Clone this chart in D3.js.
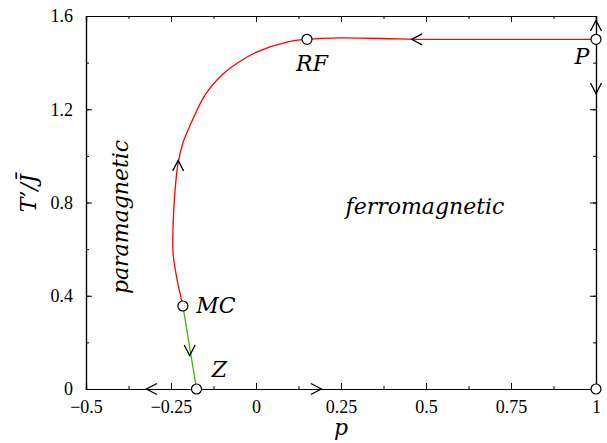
<!DOCTYPE html>
<html>
<head>
<meta charset="utf-8">
<script src="https://cdnjs.cloudflare.com/ajax/libs/d3/7.8.5/d3.min.js"></script>
<style>
  body { margin: 0; background: #fff; }
</style>
</head>
<body>
<script>
// data
var redP = [1.0, 0.75, 0.5, 0.42, 0.25, 0.15, 0.094, 0.003, -0.05, -0.097, -0.15, -0.197, -0.215, -0.229, -0.238, -0.244, -0.244, -0.232, -0.221, -0.215];
var redT = [1.5, 1.5, 1.5, 1.502, 1.506, 1.5, 1.489, 1.446, 1.403, 1.351, 1.261, 1.12, 1.055, 0.97, 0.854, 0.695, 0.583, 0.468, 0.395, 0.356];
var greenP = [-0.215, -0.175];
var greenT = [0.356, 0.0];
var fixedNames = ["P", "RF", "MC", "Z", ""];
var fixedP = [1.0, 0.15, -0.215, -0.175, 1.0];
var fixedT = [1.5, 1.5, 0.356, 0.0, 0.0];
// arrow heads: position and direction
var arrowP = [0.474, -0.229, -0.195, -0.306, 0.176, 1.0, 1.0];
var arrowT = [1.5, 0.957, 0.167, 0.0, 0.0, 1.557, 1.291];
var arrowDir = ["left", "up", "down", "left", "right", "up", "down"];
var xTicks = [-0.5, -0.25, 0, 0.25, 0.5, 0.75, 1];
var xTickLabels = ["\u22120.5", "\u22120.25", "0", "0.25", "0.5", "0.75", "1"];
var yTicks = [0, 0.4, 0.8, 1.2, 1.6];
var yTickLabels = ["0", "0.4", "0.8", "1.2", "1.6"];

var FONT = "Liberation Serif";
var IFONT = "DejaVu Serif";
var W = 607, H = 443;
var margin = {top: 16, right: 11, bottom: 54, left: 86},
    width = W - margin.left - margin.right,
    height = H - margin.top - margin.bottom;

var x = d3.scaleLinear().domain([-0.5, 1]).range([0, width]);
var y = d3.scaleLinear().domain([0, 1.6]).range([height, 0]);

var svg = d3.select("body").append("svg")
    .attr("width", W)
    .attr("height", H)
  .append("g")
    .attr("transform", "translate(" + margin.left + "," + margin.top + ")");

var xMinor = d3.range(-0.5, 1.0001, 0.125);
var yMinor = d3.range(0, 1.6001, 0.2);

function axisStyle(g) {
  g.attr("font-family", FONT).attr("font-size", 18);
  g.select(".domain").attr("stroke", "#000").attr("stroke-width", 1.2);
  g.selectAll(".tick line").attr("stroke", "#000");
  g.selectAll(".tick text").attr("fill", "#000")
    .attr("font-family", FONT).attr("font-size", 18);
}

// minor ticks (inward)
svg.append("g").attr("transform", "translate(0," + height + ")")
  .call(d3.axisBottom(x).tickValues(xMinor).tickSize(-3).tickFormat(""))
  .call(axisStyle);
svg.append("g")
  .call(d3.axisTop(x).tickValues(xMinor).tickSize(-3).tickFormat(""))
  .call(axisStyle);
svg.append("g")
  .call(d3.axisLeft(y).tickValues(yMinor).tickSize(-3).tickFormat(""))
  .call(axisStyle);
svg.append("g").attr("transform", "translate(" + width + ",0)")
  .call(d3.axisRight(y).tickValues(yMinor).tickSize(-3).tickFormat(""))
  .call(axisStyle);

// major ticks
svg.append("g").attr("transform", "translate(0," + height + ")")
  .call(d3.axisBottom(x).tickValues(xTicks).tickSize(-6).tickPadding(11)
    .tickFormat(function(d, i) { return xTickLabels[i]; }))
  .call(axisStyle);
svg.append("g")
  .call(d3.axisTop(x).tickValues(xTicks).tickSize(-6).tickFormat(""))
  .call(axisStyle);
svg.append("g")
  .call(d3.axisLeft(y).tickValues(yTicks).tickSize(-6).tickPadding(13)
    .tickFormat(function(d, i) { return yTickLabels[i]; }))
  .call(axisStyle);
svg.append("g").attr("transform", "translate(" + width + ",0)")
  .call(d3.axisRight(y).tickValues(yTicks).tickSize(-6).tickFormat(""))
  .call(axisStyle);

// curves
var red = redP.map(function(p, i) { return [p, redT[i]]; });
var green = greenP.map(function(p, i) { return [p, greenT[i]]; });
var line = d3.line()
    .curve(d3.curveCatmullRom)
    .x(function(d) { return x(d[0]); })
    .y(function(d) { return y(d[1]); });

svg.append("path").datum(red).attr("d", line)
  .attr("fill", "none").attr("stroke", "#ff0000").attr("stroke-width", 1.3);
svg.append("path").datum(green).attr("d", line)
  .attr("fill", "none").attr("stroke", "#33bb00").attr("stroke-width", 1.3);

// arrow heads (open chevrons)
var rot = {right: 0, down: 90, left: 180, up: -90};
svg.selectAll(".arrow").data(arrowP).enter().append("path")
  .attr("class", "arrow")
  .attr("transform", function(d, i) {
    return "translate(" + x(d) + "," + y(arrowT[i]) + ") rotate(" + rot[arrowDir[i]] + ")";
  })
  .attr("d", "M-5,-5.5L5.5,0L-5,5.5")
  .attr("fill", "none").attr("stroke", "#000").attr("stroke-width", 1.3);

// fixed points
svg.selectAll(".fp").data(fixedP).enter().append("circle")
  .attr("class", "fp")
  .attr("cx", function(d) { return x(d); })
  .attr("cy", function(d, i) { return y(fixedT[i]); })
  .attr("r", 5)
  .attr("fill", "#fff").attr("stroke", "#000").attr("stroke-width", 1.2);

function italic(sel, size) {
  return sel.attr("font-family", IFONT).attr("font-style", "italic")
    .attr("font-size", size).attr("fill", "#000").attr("text-anchor", "middle");
}

// fixed point labels
var lblDx = [-14, 5, 33, 23, 0];
var lblDy = [25, 32, 7, -12, 0];
svg.selectAll(".fpl").data(fixedNames).enter().append("text")
  .attr("class", "fpl")
  .attr("x", function(d, i) { return x(fixedP[i]) + lblDx[i]; })
  .attr("y", function(d, i) { return y(fixedT[i]) + lblDy[i]; })
  .call(italic, 22)
  .text(function(d) { return d; });

// region labels
svg.append("text")
  .attr("x", x(0.497)).attr("y", y(0.751))
  .call(italic, 22)
  .text("ferromagnetic");
svg.append("text")
  .attr("transform", "translate(42," + y(0.738) + ") rotate(-90)")
  .call(italic, 22)
  .text("paramagnetic");

// axis labels
svg.append("text")
  .attr("x", x(0.25)).attr("y", height + 46)
  .call(italic, 22)
  .text("p");
svg.append("text")
  .attr("transform", "translate(-50," + (y(0.84)) + ") rotate(-90)")
  .call(italic, 22)
  .text("T\u2019/J\u0304");
</script>
</body>
</html>
